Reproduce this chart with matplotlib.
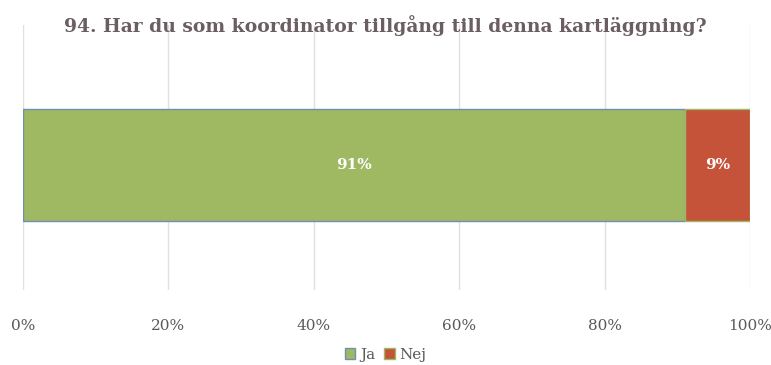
import matplotlib
matplotlib.use("Agg")
import matplotlib.pyplot as plt
from matplotlib.patches import Patch

title = "94. Har du som koordinator tillgång till denna kartläggning?"
series = ["Ja", "Nej"]
shares = [91, 9]
face_colors = ["#9fb862", "#c4533a"]
edge_colors = ["#6f8fb5", "#9fb862"]
xticks = [0, 20, 40, 60, 80, 100]

plt.rcParams["font.family"] = ["DejaVu Serif"]
text_color = "#6b5e62"
tick_color = "#595959"

fig = plt.figure(figsize=(7.71, 3.65), dpi=100)
ax = fig.add_axes([23 / 771, 1 - 290 / 365, 727 / 771, 265 / 365])

left = 0
for name, val, fc, ec in zip(series, shares, face_colors, edge_colors):
    ax.barh(0, val, left=left, height=0.845, color=fc, edgecolor=ec,
            linewidth=1.0, zorder=3)
    ax.text(left + val / 2, 0, f"{val}%", ha="center", va="center",
            color="white", fontsize=11, fontweight="bold", zorder=4)
    left += val

ax.set_xlim(0, 100)
ax.set_ylim(-0.943, 1.057)
ax.set_xticks(xticks)
ax.set_xticklabels([f"{t}%" for t in xticks], color=tick_color, fontsize=11)
ax.set_yticks([])
ax.tick_params(axis="x", length=0, pad=21)
ax.grid(axis="x", color="#e0e0e0", linewidth=1, zorder=0)
for s in ax.spines.values():
    s.set_visible(False)

fig.text(0.5, 1 - 26 / 365, title, ha="center", va="center",
         fontsize=13.5, fontweight="bold", color=text_color)

handles = [Patch(facecolor=fc, edgecolor=ec) for fc, ec in zip(face_colors, edge_colors)]
fig.legend(handles, series, loc="center", bbox_to_anchor=(0.5, 1 - 355 / 365),
           ncol=2, frameon=False, fontsize=11, handlelength=0.7, handleheight=0.7,
           handletextpad=0.3, columnspacing=0.6, labelcolor=tick_color)

fig.savefig("out.png", dpi=100)
